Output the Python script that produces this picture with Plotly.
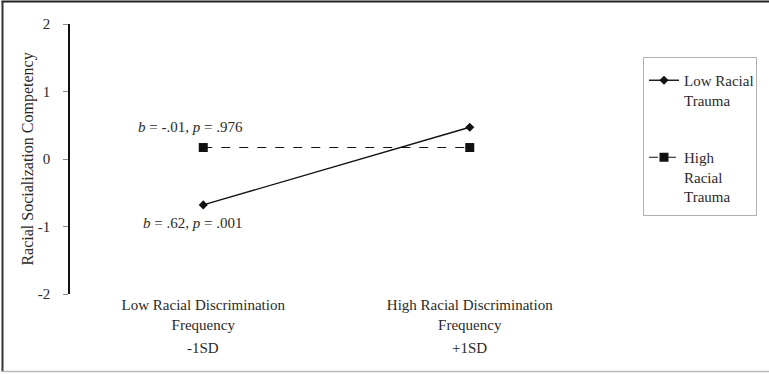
import plotly.graph_objects as go

# Simple slopes: predicted competency at -1SD / +1SD discrimination frequency
conditions = ["Low Racial Discrimination<br>Frequency", "High Racial Discrimination<br>Frequency"]
sd_labels = ["-1SD", "+1SD"]
low_trauma = [-0.68, 0.47]
high_trauma = [0.17, 0.17]
y_ticks = [-2, -1, 0, 1, 2]
slope_notes = ["<i>b</i> = -.01, <i>p</i> = .976", "<i>b</i> = .62, <i>p</i> = .001"]

W, H = 769, 374
ML, MR, MT, MB = 70, 166, 24, 80
FONT = "Liberation Serif, Times New Roman, serif"
FS = 15
TXT = "#2a2a2a"

x_pos = [0, 1]

fig = go.Figure()
fig.add_trace(go.Scatter(
    x=x_pos, y=low_trauma, mode="lines+markers", name="Low Racial<br>Trauma",
    line=dict(color="#111111", width=1.4),
    marker=dict(symbol="diamond", size=7, color="#111111"),
    legendgroup="a",
))
fig.add_trace(go.Scatter(
    x=x_pos, y=high_trauma, mode="lines+markers", name="High<br>Racial<br>Trauma",
    line=dict(color="#111111", width=1.1, dash="dash"),
    marker=dict(symbol="square", size=9, color="#111111"),
    legendgroup="b",
))

# slope annotations placed near the -1SD end of each line
fig.add_annotation(x=x_pos[0], y=high_trauma[0], text=slope_notes[0], showarrow=False,
                   xanchor="center", yanchor="bottom", xshift=-13, yshift=11,
                   font=dict(family=FONT, size=FS, color=TXT))
fig.add_annotation(x=x_pos[0], y=low_trauma[0], text=slope_notes[1], showarrow=False,
                   xanchor="center", yanchor="top", xshift=-11, yshift=-8,
                   font=dict(family=FONT, size=FS, color=TXT))

for xp, lab in zip(x_pos, sd_labels):
    fig.add_annotation(x=xp, xref="x", y=-0.2, yref="paper", text=lab, showarrow=False,
                       xanchor="center", yanchor="middle",
                       font=dict(family=FONT, size=FS, color=TXT))

# pixel -> paper helpers
pw = W - ML - MR
ph = H - MT - MB
def px_x(p):
    return (p - ML) / pw
def px_y(p):
    return 1 - (p - MT) / ph

# figure frame: dark top/left edges, light bottom edge
fig.add_shape(type="line", xref="paper", yref="paper", x0=px_x(1.5), x1=px_x(769),
              y0=px_y(1.5), y1=px_y(1.5), line=dict(color="#222", width=2))
fig.add_shape(type="line", xref="paper", yref="paper", x0=px_x(2.5), x1=px_x(2.5),
              y0=px_y(1), y1=px_y(372), line=dict(color="#333", width=2))
fig.add_shape(type="line", xref="paper", yref="paper", x0=px_x(2), x1=px_x(769),
              y0=px_y(371.5), y1=px_y(371.5), line=dict(color="#bbbbbb", width=1.5))
# legend box
fig.add_shape(type="rect", xref="paper", yref="paper", x0=px_x(643.5), x1=px_x(756.5),
              y0=px_y(57.5), y1=px_y(215.5), line=dict(color="#b0b0b0", width=1),
              fillcolor="rgba(0,0,0,0)", layer="below")

fig.update_layout(
    width=W, height=H,
    margin=dict(l=ML, r=MR, t=MT, b=MB, autoexpand=False),
    paper_bgcolor="white", plot_bgcolor="white",
    font=dict(family=FONT, size=FS, color=TXT),
    showlegend=True,
    legend=dict(
        x=px_x(644), y=px_y(64), xanchor="left", yanchor="top",
        borderwidth=0, bgcolor="rgba(0,0,0,0)",
        font=dict(family=FONT, size=FS, color=TXT),
        valign="top", tracegroupgap=35, itemwidth=30,
    ),
    xaxis=dict(
        range=[-0.5, 1.5], tickmode="array", tickvals=x_pos, ticktext=conditions,
        showline=False, showgrid=False, zeroline=False, ticks="",
        automargin=False,
        tickfont=dict(family=FONT, size=FS, color=TXT),
    ),
    yaxis=dict(
        range=[-2, 2], tickmode="array", tickvals=y_ticks, ticktext=[str(v) for v in y_ticks],
        showline=True, linecolor="#111", linewidth=1.5, showgrid=False, zeroline=False,
        ticks="outside", ticklen=5, tickcolor="#888", tickwidth=1,
        ticklabelstandoff=10, automargin=False,
        tickfont=dict(family=FONT, size=FS, color=TXT),
        title=dict(text="Racial Socialization Competency", standoff=0,
                   font=dict(family=FONT, size=16, color=TXT)),
    ),
)

fig.write_html("out.html")
